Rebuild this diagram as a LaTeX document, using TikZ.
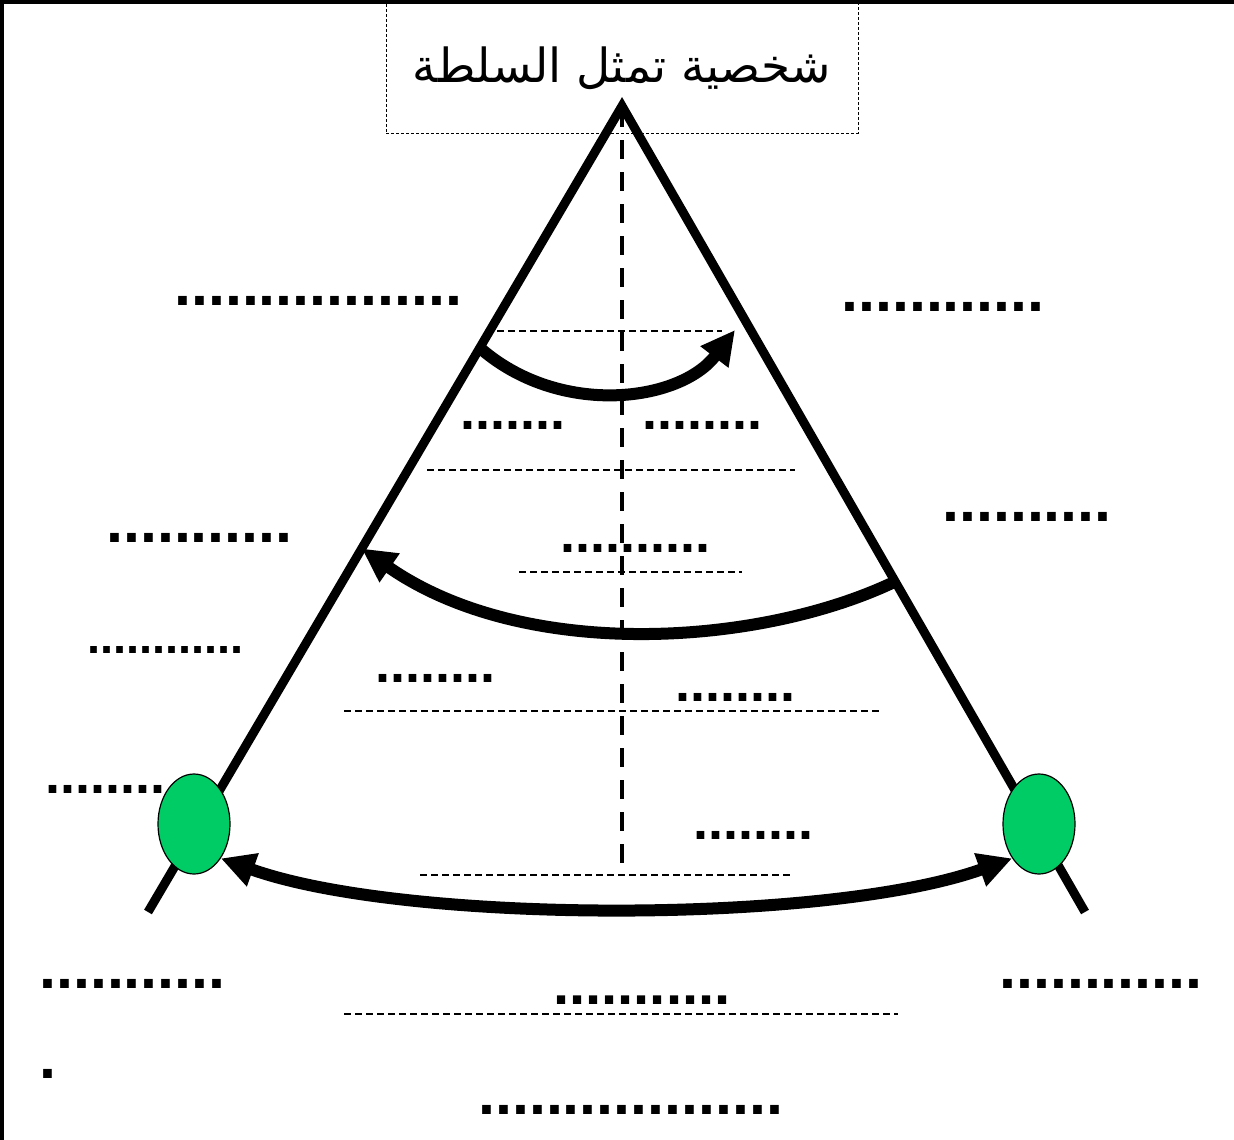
\documentclass[tikz,border=0pt]{standalone}
\usepackage{fontspec}
\usetikzlibrary{arrows.meta, shapes.geometric, calc}
\TeXXeTstate=1
\newfontfamily\arabicfont[Script=Arabic]{DejaVu Sans}
\newfontfamily\dotfont{Liberation Sans}
\definecolor{nodegreen}{RGB}{0,204,102}

\begin{document}
\begin{tikzpicture}[x=1pt, y=-1pt,
    titlebox/.style={
        draw, line width=0.8pt, dash pattern=on 3pt off 2pt,
        minimum width=472pt, minimum height=130pt, inner sep=0pt,
        font=\arabicfont\fontsize{47pt}{47pt}\selectfont},
    leg/.style={line width=9pt, line join=miter},
    axis/.style={line width=4pt, dash pattern=on 19pt off 13pt},
    guide/.style={line width=1.2pt, dash pattern=on 7pt off 4pt},
    arr/.style={line width=12pt, -{Triangle[length=34pt, width=33pt]}},
    endpt/.style={ellipse, draw, line width=1.2pt, fill=nodegreen,
        minimum width=72pt, minimum height=100pt, inner sep=0pt},
    dots/.style={inner sep=0pt, anchor=base west,
        font=\dotfont\bfseries\fontsize{#1}{#1}\selectfont},
    dots/.default=61pt]
  \useasboundingbox (0,0) rectangle (1234,1140);
  % cadre
  \draw[line width=4pt] (0,2) -- (1234,2);
  \draw[line width=4pt] (2,0) -- (2,1140);
  % titre
  \node[titlebox] (title) at (622,68) {\beginR شخصية تمثل السلطة\endR};
  % lignes pointillees
  \foreach \y/\a/\b in {331/497/722, 470/427/795, 572/519/742,
                        711/344/880, 875/420/790, 1014/344/898}
    \draw[guide] (\a,\y) -- (\b,\y);
  % triangle
  \coordinate (apex) at (622,106);
  \coordinate (lfoot) at (148,912);
  \coordinate (rfoot) at (1085,912);
  \coordinate (axtop) at (622,108);
  \coordinate (axbot) at (622,875);
  \draw[axis] (axtop) -- (axbot);
  \draw[leg] (lfoot) -- (apex) -- (rfoot);
  % lignes de points
  \node[dots] (d1) at (174,305) {.................};
  \node[dots] (d2) at (841,311) {............};
  \node[dots=54pt] (d3) at (460,429) {.......};
  \node[dots=54pt] (d4) at (642,429) {........};
  \node[dots] (d5) at (942,521) {..........};
  \node[dots] (d6) at (106,542) {...........};
  \node[dots=54pt] (d7) at (560,552) {..........};
  \node[dots=47pt] (d8) at (87,653) {............};
  \node[dots=54pt] (d9) at (375,682) {........};
  \node[dots=54pt] (d10) at (675,701) {........};
  \node[dots=54pt] (d11) at (45,793) {........};
  \node[dots=54pt] (d12) at (693,839) {........};
  \node[dots] (d13) at (39,988) {...........};
  \node[dots] (d14) at (999,988) {............};
  \node[dots=58pt] (d15) at (553,1004) {...........};
  \node[dots] (d16) at (39,1078) {.};
  \node[dots] (d17) at (478,1114) {..................};
  % extremites
  \node[endpt] (lend) at (194,824) {};
  \node[endpt] (rend) at (1039,824) {};
  % fleches
  \coordinate (a1s) at ($(apex)!0.3!(lfoot)$);
  \coordinate (a1e) at (735,330);
  \coordinate (a2s) at ($(apex)!0.59!(rfoot)$);
  \coordinate (a2e) at ($(apex)!0.549!(lfoot)$);
  \draw[arr] (a1s) .. controls +(80,70) and +(-55,72) .. (a1e);
  \draw[arr] (a2s) .. controls +(-136,65) and +(162,113) .. (a2e);
  \draw[arr, {Triangle[length=34pt, width=33pt]}-{Triangle[length=34pt, width=33pt]}]
    (lend.-52) .. controls +(184,66) and +(-184,66) .. (rend.-128);
\end{tikzpicture}
\end{document}
